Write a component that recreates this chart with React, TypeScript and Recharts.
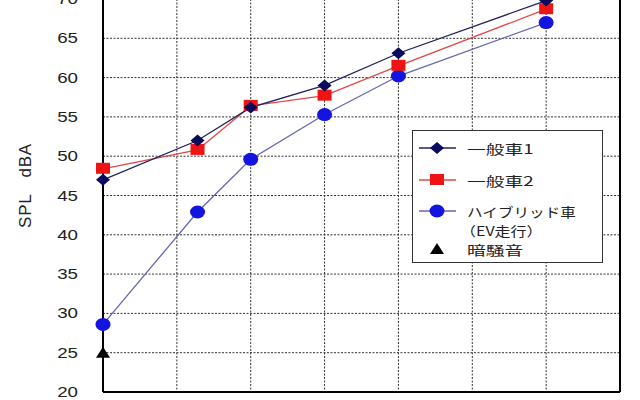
import React from "react";
import { ComposedChart, Line, Scatter, XAxis, YAxis, CartesianGrid, ReferenceLine } from "recharts";

const speeds = [0, 12.8, 20, 30, 40, 60];
const car1 = [47.0, 52.0, 56.2, 59.0, 63.1, 69.8];
const car2 = [48.4, 50.8, 56.4, 57.7, 61.5, 68.7];
const hybrid = [28.6, 42.9, 49.6, 55.3, 60.2, 67.0];
const noiseX = [0];
const noiseY = [25.0];
const yTicks = [20, 25, 30, 35, 40, 45, 50, 55, 60, 65, 70];
const xTicks = [0, 10, 20, 30, 40, 50, 60, 70];
const seriesNames = ["一般車1", "一般車2", "ハイブリッド車", "（EV走行）", "暗騒音"];

const data = speeds.map((s, i) => ({ x: s, car1: car1[i], car2: car2[i], hybrid: hybrid[i] }));
const noiseData = noiseX.map((x, i) => ({ x, y: noiseY[i] }));

const FONT = "'Liberation Sans', Arial, 'Noto Sans CJK JP', sans-serif";
const JFONT = "'Noto Sans CJK JP', 'Liberation Sans', sans-serif";

const C1 = "#0a0a5e";
const C1L = "#23235e";
const C2 = "#ee1414";
const C2L = "#e04848";
const C3 = "#1414e0";
const C3L = "#6666b4";

const Diamond = ({ cx, cy }: any) => (
  <polygon points={`${cx - 7},${cy} ${cx},${cy - 6} ${cx + 7},${cy} ${cx},${cy + 6}`} fill={C1} />
);
const Square = ({ cx, cy }: any) => <rect x={cx - 7} y={cy - 6} width={14} height={11} fill={C2} />;
const Circle = ({ cx, cy }: any) => <ellipse cx={cx} cy={cy} rx={7.5} ry={6.5} fill={C3} />;
const Tri = ({ cx, cy }: any) => (
  <polygon points={`${cx - 7},${cy + 5} ${cx},${cy - 6} ${cx + 7},${cy + 5}`} fill="#000" />
);

const YTick = ({ x, y, payload }: any) => (
  <text
    x={0}
    y={0}
    transform={`translate(${x},${y}) scale(1.25,1)`}
    textAnchor="end"
    dy={5}
    fontSize={15}
    fontFamily={FONT}
    fill="#222"
  >
    {payload.value}
  </text>
);

const YLabel = ({ viewBox }: any) => {
  const cx = viewBox.x + 25;
  const cy = viewBox.y + viewBox.height / 2 - 10;
  return (
    <text
      x={cx}
      y={cy}
      transform={`rotate(-90, ${cx}, ${cy})`}
      textAnchor="middle"
      dominantBaseline="central"
      fontSize={17}
      letterSpacing={0.8}
      fontFamily={FONT}
      fill="#222"
      style={{ whiteSpace: "pre" }}
    >
      {"SPL   dBA"}
    </text>
  );
};

const LegendMark = ({ kind }: { kind: number }) => (
  <svg width={40} height={16} style={{ display: "block" }}>
    {kind < 3 && <line x1={1} y1={8} x2={38} y2={8} stroke={[C1L, C2L, C3L][kind]} strokeWidth={1.5} />}
    {kind === 0 && <Diamond cx={19} cy={8} />}
    {kind === 1 && <Square cx={19} cy={8} />}
    {kind === 2 && <Circle cx={19} cy={8} />}
    {kind === 3 && <Tri cx={19} cy={8} />}
  </svg>
);

const textScales = [1.44, 1.44, 1.2, 1.23, 1.44];
const textLefts = [54, 54, 54, 47, 54];

const LegendText = ({ children, sx }: any) => (
  <span
    style={{
      display: "inline-block",
      transform: `scale(${sx},1)`,
      transformOrigin: "left center",
      fontSize: 13,
      fontFamily: JFONT,
      color: "#222",
      lineHeight: "16px",
      whiteSpace: "nowrap",
    }}
  >
    {children}
  </span>
);

const rowTops = [9, 41, 72, 91, 110];

export default function App() {
  return (
    <div style={{ position: "absolute", left: 0, top: 0, width: 640, height: 400, overflow: "hidden", background: "#fff" }}>
      <div style={{ position: "absolute", left: 0, top: -11 }}>
        <ComposedChart width={640} height={420} data={data} margin={{ top: 10, right: 20, bottom: 12, left: 0 }}>
          <CartesianGrid stroke="#333" strokeDasharray="2 1.5" strokeWidth={1} />
          <XAxis
            dataKey="x"
            type="number"
            domain={[0, 70]}
            ticks={xTicks}
            tick={() => <g />}
            tickLine={false}
            height={5}
            axisLine={{ stroke: "#000", strokeWidth: 2 }}
          />
          <YAxis
            type="number"
            domain={[20, 70]}
            ticks={yTicks}
            width={103}
            tick={<YTick />}
            tickLine={false}
            tickSize={0}
            tickMargin={25}
            axisLine={{ stroke: "#000", strokeWidth: 2 }}
            label={<YLabel />}
          />
          <ReferenceLine x={70} stroke="#000" strokeWidth={2} />
          <Line
            dataKey="hybrid"
            stroke={C3L}
            strokeWidth={1.3}
            isAnimationActive={false}
            dot={(p: any) => <Circle key={`h${p.index}`} cx={p.cx} cy={p.cy} />}
          />
          <Line
            dataKey="car2"
            stroke={C2L}
            strokeWidth={1.3}
            isAnimationActive={false}
            dot={(p: any) => <Square key={`s${p.index}`} cx={p.cx} cy={p.cy} />}
          />
          <Line
            dataKey="car1"
            stroke={C1L}
            strokeWidth={1.3}
            isAnimationActive={false}
            dot={(p: any) => <Diamond key={`d${p.index}`} cx={p.cx} cy={p.cy} />}
          />
          <Scatter data={noiseData} dataKey="y" isAnimationActive={false} shape={(p: any) => <Tri cx={p.cx} cy={p.cy} />} />
        </ComposedChart>
      </div>
      <div
        style={{
          position: "absolute",
          left: 412,
          top: 130,
          width: 189,
          height: 131,
          border: "1.5px solid #333",
          background: "#fff",
        }}
      >
        {[0, 1, 2].map((k) => (
          <div key={k} style={{ position: "absolute", left: 5, top: rowTops[k] }}>
            <LegendMark kind={k} />
          </div>
        ))}
        <div style={{ position: "absolute", left: 5, top: rowTops[4] }}>
          <LegendMark kind={3} />
        </div>
        {seriesNames.map((n, i) => (
          <div key={n} style={{ position: "absolute", left: textLefts[i], top: rowTops[i] }}>
            <LegendText sx={textScales[i]}>{n}</LegendText>
          </div>
        ))}
      </div>
    </div>
  );
}
